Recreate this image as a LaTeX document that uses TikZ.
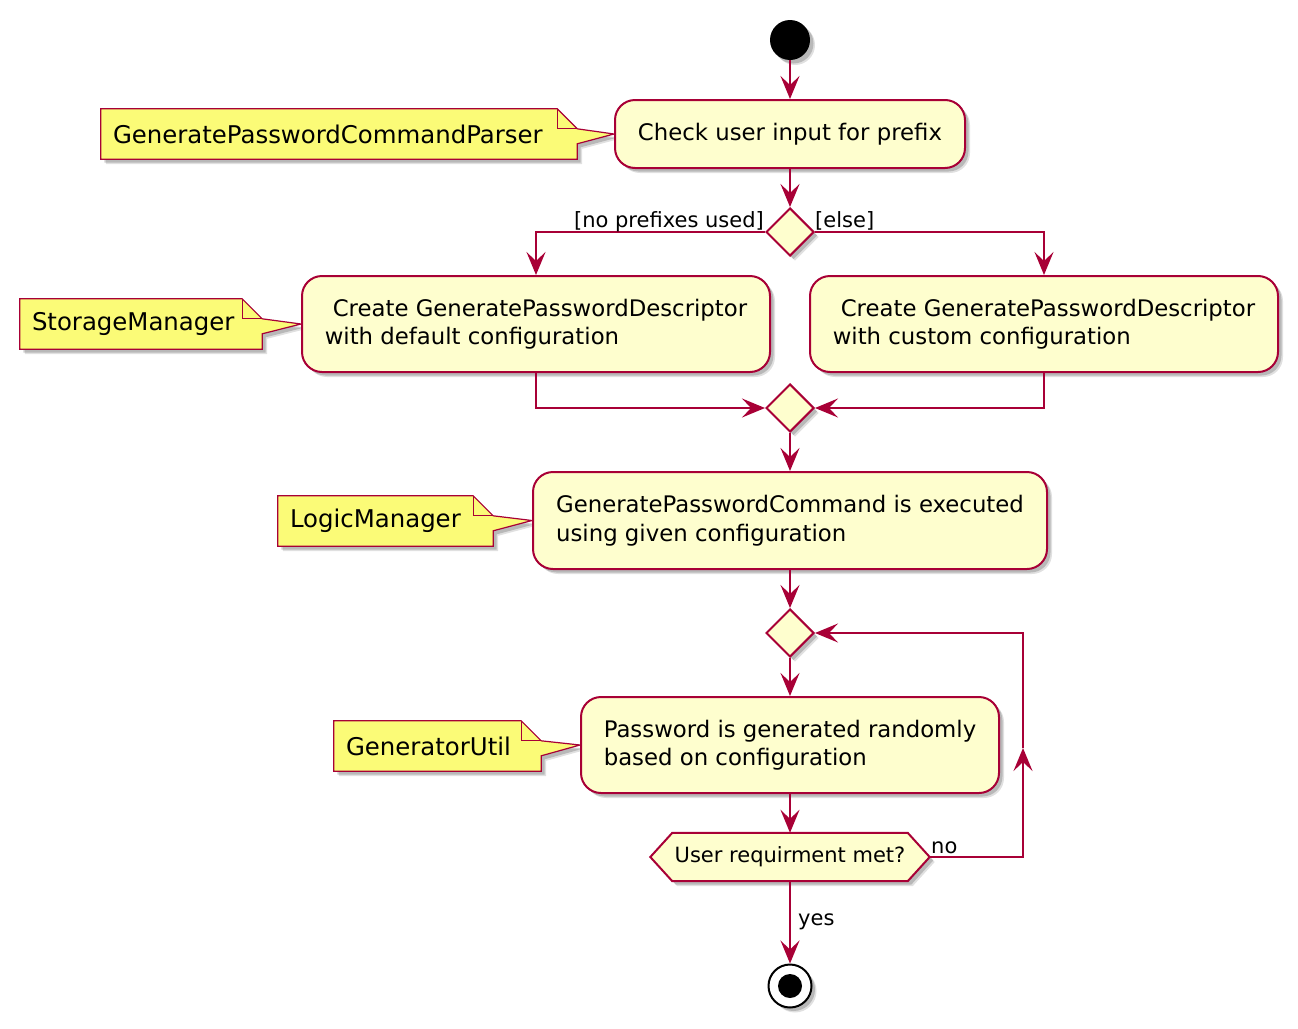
\documentclass[tikz,border=0pt]{standalone}
\usepackage{fontspec}
\setmainfont{DejaVu Sans}
\usetikzlibrary{arrows.meta,shapes.geometric,shadows,backgrounds}
\definecolor{pred}{HTML}{A80036}
\definecolor{pfill}{HTML}{FEFECE}
\definecolor{nfill}{HTML}{FBFB77}
\newcommand\actfont{\fontsize{22.8}{28.5}\selectfont}
\newcommand\notefont{\fontsize{24.4}{29}\selectfont}
\newcommand\lblfont{\fontsize{21}{25}\selectfont}
\tikzset{
  shadowed/.style={drop shadow={shadow xshift=5pt,shadow yshift=-5pt,opacity=.12,fill=black},
                   drop shadow={shadow xshift=3.5pt,shadow yshift=-3.5pt,opacity=.18,fill=black}},
  actbox/.style={draw=pred, fill=pfill, line width=2pt, rounded corners=20pt, shadowed,
                 inner xsep=0pt, inner ysep=0pt, align=left, font=\actfont},
  diam/.style={diamond, aspect=1, draw=pred, fill=pfill, line width=2pt, inner sep=0pt,
               minimum width=48pt, minimum height=48pt, shadowed},
  notetext/.style={inner xsep=12pt, inner ysep=0pt, minimum height=50pt, align=left, font=\notefont},
  noteshape/.style={draw=pred, fill=nfill, line width=1.2pt, line join=miter, shadowed},
  foldline/.style={draw=pred, line width=1.2pt},
  conn/.style={draw=pred, line width=2pt, -{Stealth[length=23pt,width=19pt,inset=9pt]}},
  lbl/.style={inner sep=0pt, font=\lblfont},
}
\newcommand\drawnote[2]{%
  \path[noteshape] (#1.north west) -- ([xshift=-20pt]#1.north east)
    -- ([yshift=-20pt]#1.north east) -- (#2.west) -- ([yshift=-35pt]#1.north east)
    -- (#1.south east) -- (#1.south west) -- cycle;
  \draw[foldline] ([xshift=-20pt]#1.north east) -- ([xshift=-20pt,yshift=-20pt]#1.north east)
    -- ([yshift=-20pt]#1.north east);
}
\begin{document}
\begin{tikzpicture}[x=1pt,y=-1pt]
\useasboundingbox (0,0) rectangle (1298,1028);
% start
\node[circle, fill=black, minimum size=40pt, inner sep=0pt, shadowed] (s) at (790,40) {};
% actions
\node[actbox, minimum width=350pt, minimum height=68pt] (a1) at (790,134) {Check user input for prefix};
\node[diam] (d1) at (790,232) {};
\node[actbox, minimum width=468pt, minimum height=96pt] (a2) at (536,324)
  {\hspace*{8pt}Create GeneratePasswordDescriptor\\with default configuration};
\node[actbox, minimum width=468pt, minimum height=96pt] (a3) at (1044,324)
  {\hspace*{8pt}Create GeneratePasswordDescriptor\\with custom configuration};
\node[diam] (d2) at (790,408) {};
\node[actbox, minimum width=514pt, minimum height=97pt] (a4) at (790,520.5)
  {GeneratePasswordCommand is executed\\using given configuration};
\node[diam] (d3) at (790,633) {};
\node[actbox, minimum width=418pt, minimum height=96pt] (a5) at (790,745)
  {Password is generated randomly\\based on configuration};
\node[inner sep=0pt, minimum width=279pt, minimum height=48pt, font=\lblfont] (h) at (790,857) {User requirment met?};
% end
\node[circle, draw=black, line width=2pt, fill=white, minimum size=43pt, inner sep=0pt, shadowed] (e) at (790,986) {};
\node[circle, fill=black, minimum size=24pt, inner sep=0pt] (ei) at (e.center) {};
% notes
\node[notetext, text width=452pt] (n1) at (339,134) {GeneratePasswordCommandParser};
\node[notetext, text width=218pt] (n2) at (141,324) {StorageManager};
\node[notetext, text width=191pt] (n3) at (385.5,521) {LogicManager};
\node[notetext, text width=183pt] (n4) at (437.5,746) {GeneratorUtil};
\begin{scope}[on background layer]
  \drawnote{n1}{a1}
  \drawnote{n2}{a2}
  \drawnote{n3}{a4}
  \drawnote{n4}{a5}
  \path[draw=pred, fill=pfill, line width=2pt, shadowed] (h.west) -- ([xshift=22pt]h.north west)
    -- ([xshift=-22pt]h.north east) -- (h.east) -- ([xshift=-22pt]h.south east)
    -- ([xshift=22pt]h.south west) -- cycle;
\end{scope}
% connectors
\draw[conn] (s.south) -- (a1.north);
\draw[conn] (a1.south) -- (d1.north);
\draw[conn] (d1.west) -| (a2.north);
\draw[conn] (d1.east) -| (a3.north);
\draw[conn] (a2.south) |- (d2.west);
\draw[conn] (a3.south) |- (d2.east);
\draw[conn] (d2.south) -- (a4.north);
\draw[conn] (a4.south) -- (d3.north);
\draw[conn] (d3.south) -- (a5.north);
\draw[conn] (a5.south) -- (h.north);
\coordinate (lp1) at (1023,857);
\coordinate (lpm) at (1023,748);
\coordinate (lp2) at (1023,633);
\draw[conn] (h.east) -- (lp1) -- (lpm);
\draw[conn] (lpm) -- (lp2) -- (d3.east);
\draw[conn] (h.south) -- (e.north);
% labels
\node[lbl, anchor=base east] (l1) at (764,227) {[no prefixes used]};
\node[lbl, anchor=base west] (l2) at (815,227) {[else]};
\node[lbl, anchor=base west] (l3) at (931,853) {no};
\node[lbl, anchor=base west] (l4) at (798,925) {yes};
\end{tikzpicture}
\end{document}
